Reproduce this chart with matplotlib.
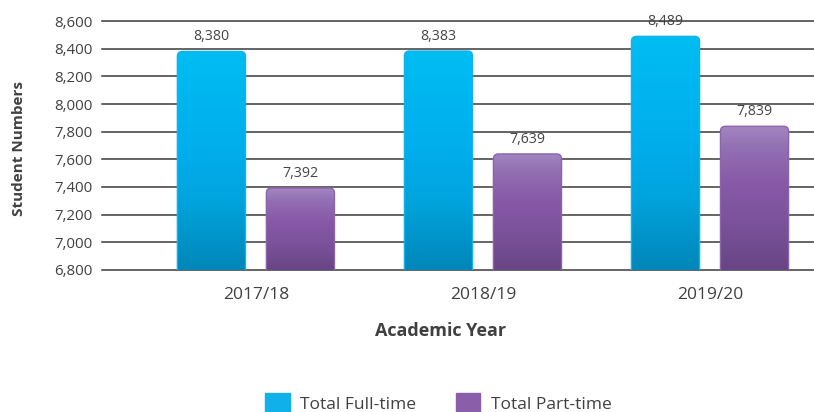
import matplotlib
matplotlib.use("Agg")
import matplotlib.pyplot as plt
import numpy as np
from matplotlib.patches import FancyBboxPatch, Patch
from matplotlib.colors import LinearSegmentedColormap

years = ["2017/18", "2018/19", "2019/20"]
full_time = [8380, 8383, 8489]
part_time = [7392, 7639, 7839]
series_names = ["Total Full-time", "Total Part-time"]

plt.rcParams['font.family'] = ['Open Sans', 'DejaVu Sans']

fig = plt.figure(figsize=(8.14, 4.12), dpi=100)
ax = fig.add_axes([0.1253, 0.3447, 0.8747, 0.6043])

ymin, ymax = 6800, 8600
ax.set_ylim(ymin, ymax)
ax.set_xlim(-0.678, 2.458)

x = np.arange(len(years))
width = 0.30
offset = 0.196

cmaps = [
    LinearSegmentedColormap.from_list(
        "ft", [(0, "#0086b8"), (0.3, "#00a3dc"), (0.55, "#00aeec"), (1, "#00bdf2")]),
    LinearSegmentedColormap.from_list(
        "pt", [(0, "#684585"), (0.35, "#7c539c"), (0.6, "#8759a6"), (0.85, "#936fb3"), (1, "#a386c0")]),
]
edge = ["#12b2ec", "#8c64ac"]

# data units per pixel, used for the rounded corners
ypp = (ymax - ymin) / 249.0
xpp = 1.0 / 227.0
rad = 5 * xpp

grad = np.linspace(0, 1, 256).reshape(-1, 1)

for i, vals in enumerate([full_time, part_time]):
    pos = x + (-offset if i == 0 else offset)
    for xc, v in zip(pos, vals):
        x0 = xc - width / 2
        bottom = ymin - 60
        patch = FancyBboxPatch((x0, bottom), width, v - bottom,
                               boxstyle=f"round,pad=0,rounding_size={rad}",
                               mutation_aspect=ypp / xpp,
                               facecolor="none", edgecolor=edge[i], linewidth=1.0,
                               zorder=3)
        ax.add_patch(patch)
        im = ax.imshow(grad, extent=(x0, x0 + width, ymin, v), origin="lower",
                       cmap=cmaps[i], aspect="auto", zorder=2, interpolation="bilinear")
        im.set_clip_path(patch)
        ax.annotate(f"{v:,}", (xc, v), xytext=(0, 11), textcoords="offset pixels",
                    ha="center", va="baseline", fontsize=10.2, color="#444444")

ax.set_xlim(-0.678, 2.458)
ax.set_ylim(ymin, ymax)

yt = np.arange(6800, 8601, 200)
ax.set_yticks(yt)
ax.set_yticklabels([f"{t:,}" for t in yt], fontsize=10.8, color="#404040")
ax.set_xticks(x)
ax.set_xticklabels(years, fontsize=12.5, color="#404040")
ax.tick_params(axis="both", length=0)
ax.tick_params(axis="y", pad=6.5)
ax.tick_params(axis="x", pad=12)
ax.yaxis.grid(True, color="#3a3a3a", linewidth=1.1)
for gl in ax.get_ygridlines():
    gl.set_clip_on(False)
ax.set_axisbelow(True)
for s in ax.spines.values():
    s.set_visible(False)

fig.text(19.5 / 814, 1 - 148 / 412, "Student Numbers", rotation=90, ha="center", va="center",
         fontsize=11, fontweight="bold", color="#404040")
fig.text(441 / 814, 1 - 331 / 412, "Academic Year", ha="center", va="center",
         fontsize=13, fontweight="bold", color="#404040")

handles = [Patch(facecolor="#10b0ea", edgecolor="#10b0ea"),
           Patch(facecolor="#8a5ea8", edgecolor="#8a5ea8")]
fig.legend(handles, series_names, loc="center", bbox_to_anchor=(0.5387, 0.022), ncol=2,
           frameon=False, fontsize=12.5, handlelength=1.4, handleheight=1.3,
           columnspacing=2.3, handletextpad=0.6, labelcolor="#404040",
           borderpad=0, borderaxespad=0)

fig.savefig("out.png", dpi=100)
